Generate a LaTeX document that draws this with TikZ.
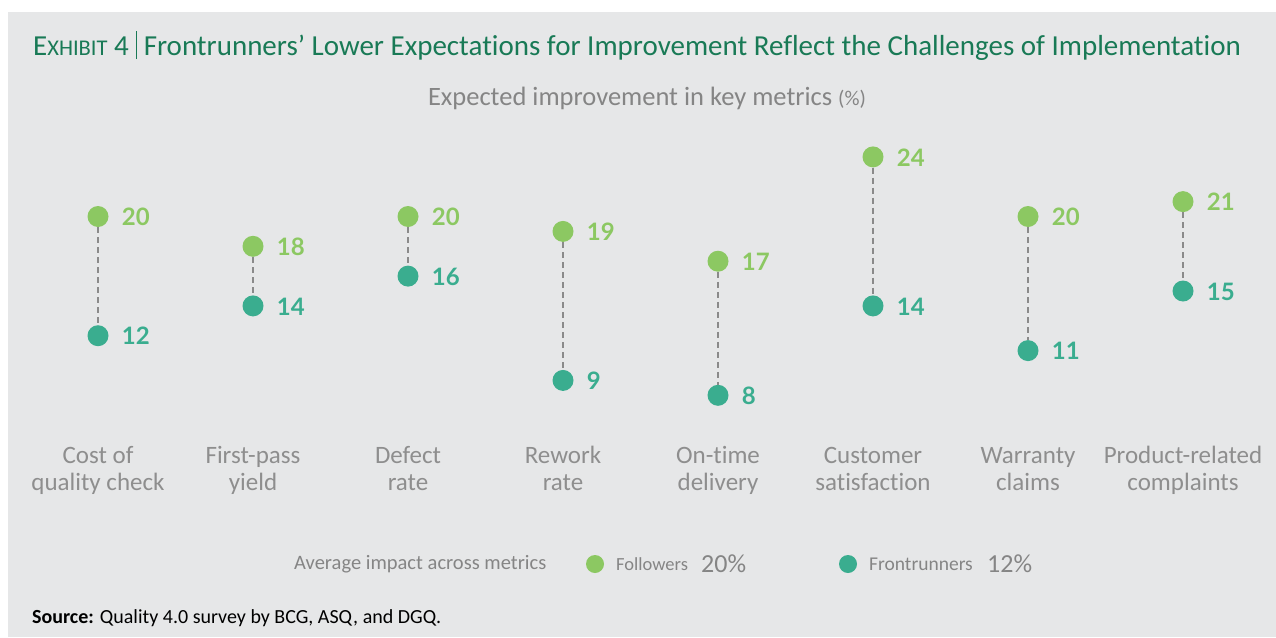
\documentclass[tikz,border=0pt]{standalone}
\usepackage{fontspec}
\setmainfont{Carlito}[Ligatures=NoCommon]
\newfontfamily\numfont{Lato}
\definecolor{bg}{HTML}{E6E7E8}
\definecolor{fol}{HTML}{8CC862}
\definecolor{fro}{HTML}{3AAD8F}
\definecolor{ttl}{HTML}{197A56}
\definecolor{gtxt}{HTML}{858585}
\definecolor{ctxt}{HTML}{8E8E8E}
\definecolor{dash}{HTML}{8A8A8A}
\tikzset{
  fdot/.style={circle,fill=fol,minimum size=21pt,inner sep=0pt},
  tdot/.style={circle,fill=fro,minimum size=21pt,inner sep=0pt},
  fval/.style={anchor=west,inner sep=0pt,text=fol,font=\numfont\bfseries\fontsize{24}{24}\selectfont},
  tval/.style={anchor=west,inner sep=0pt,text=fro,font=\numfont\bfseries\fontsize{24}{24}\selectfont},
  conn/.style={draw=dash,line width=1.2pt,dash pattern=on 6pt off 4pt},
  cat/.style={align=center,inner sep=0pt,text=ctxt,font=\fontsize{25}{27}\selectfont},
  leg/.style={anchor=west,inner sep=0pt,text=gtxt,font=\fontsize{19.5}{19.5}\selectfont},
  legpct/.style={anchor=west,inner sep=0pt,text=gtxt,font=\fontsize{26}{26}\selectfont},
}
\begin{document}
\begin{tikzpicture}[x=1pt,y=-1pt]
\useasboundingbox (0,0) rectangle (1276,637);
\fill[white] (0,0) rectangle (1276,637);
\fill[bg] (8,12) rectangle (1276,637);
% title
\node[anchor=base west,inner sep=0pt,text=ttl,font=\fontsize{29}{29}\selectfont] (title) at (33,55)
  {E{\fontsize{22.5}{22.5}\selectfont XHIBIT} 4\kern7pt\rule[-4pt]{0.9pt}{28pt}\kern7pt Frontrunners’ Lower Expectations for Improvement Reflect the Challenges of Implementation};
\node[anchor=base,inner sep=0pt,text=gtxt,font=\fontsize{26.5}{26.5}\selectfont] (sub) at (647,105)
  {Expected improvement in key metrics {\fontsize{21}{21}\selectfont(\%)}};
% columns
\foreach \i/\x/\f/\t/\lab in {
  1/98/20/12/{\strut Cost of\\\strut quality check},
  2/253/18/14/{\strut First-pass\\\strut yield},
  3/408/20/16/{\strut Defect\\\strut rate},
  4/563/19/9/{\strut Rework\\\strut rate},
  5/718/17/8/{\strut On-time\\\strut delivery},
  6/873/24/14/{\strut Customer\\\strut satisfaction},
  7/1028/20/11/{\strut Warranty\\\strut claims},
  8/1183/21/15/{\strut Product-related\\\strut complaints}} {
  \node[fdot] (f\i) at (\x,{514.5-14.9*\f}) {};
  \node[tdot] (t\i) at (\x,{514.5-14.9*\t}) {};
  \draw[conn] (f\i) -- (t\i);
  \node[fval] (fv\i) at ([xshift=13pt,yshift=-0.5pt]f\i.east) {\f};
  \node[tval] (tv\i) at ([xshift=13pt,yshift=-0.5pt]t\i.east) {\t};
  \node[cat] (c\i) at (\x,472) {\lab};
}
% legend
\node[leg,font=\fontsize{20.5}{20.5}\selectfont] (avg) at (294,564) {Average impact across metrics};
\node[circle,fill=fol,minimum size=18pt,inner sep=0pt] (lf) at (595,564) {};
\node[leg,font=\fontsize{18.5}{18.5}\selectfont] (lft) at (616,564) {Followers};
\node[legpct] (lfp) at (701,564) {20\%};
\node[circle,fill=fro,minimum size=18pt,inner sep=0pt] (lt) at (848,564) {};
\node[leg] (ltt) at (869,564) {Frontrunners};
\node[legpct] (ltp) at (987,564) {12\%};
% source
\node[anchor=base west,inner sep=0pt,font=\fontsize{20}{20}\selectfont] (src) at (32,623)
  {\textbf{Source:} Quality 4.0 survey by BCG, ASQ, and DGQ.};
\end{tikzpicture}
\end{document}
